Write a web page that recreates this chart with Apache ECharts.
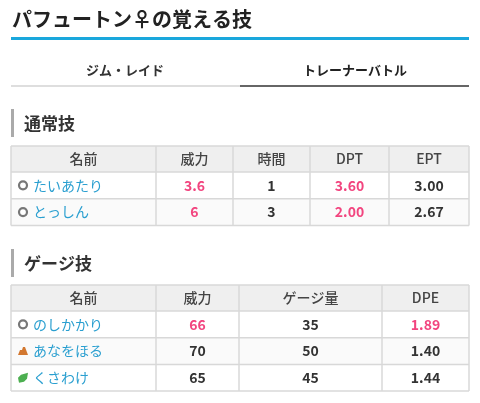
<!DOCTYPE html>
<html><head><meta charset="utf-8">
<script src="https://cdn.jsdelivr.net/npm/echarts@6/dist/echarts.min.js"></script>
<style>html,body{margin:0;padding:0;background:#fff}#c{width:480px;height:403px}</style>
</head><body><div id="c"></div>
<script>
const title = "パフュートン♀の覚える技";
const tabs = ["ジム・レイド", "トレーナーバトル"];
const sec1 = "通常技";
const head1 = ["名前", "威力", "時間", "DPT", "EPT"];
const names1 = ["たいあたり", "とっしん"];
const types1 = ["normal", "normal"];
const power1 = ["3.6", "6"];
const time1 = ["1", "3"];
const dpt1 = ["3.60", "2.00"];
const ept1 = ["3.00", "2.67"];
const hl1 = [[true,false,true,false],[true,false,true,false]];
const sec2 = "ゲージ技";
const head2 = ["名前", "威力", "ゲージ量", "DPE"];
const names2 = ["のしかかり", "あなをほる", "くさわけ"];
const types2 = ["normal", "ground", "grass"];
const power2 = ["66", "70", "65"];
const gauge2 = ["35", "50", "45"];
const dpe2 = ["1.89", "1.40", "1.44"];
const hl2 = [[true,false,true],[false,false,false],[false,false,false]];

const F = '"Noto Sans CJK JP", "Noto Sans", sans-serif';
const PINK = '#f2457f', DARK = '#333', LINK = '#2a9fd0', BORDER = '#d8d8d8';
const g = [];
function txt(x, y, s, o) {
  g.push({type:'text', x, y, style:Object.assign({text:s, font:'bold 14px '+F, fill:DARK, textAlign:'center', textVerticalAlign:'middle'}, o||{})});
}
function rect(x, y, w, h, st) { g.push({type:'rect', shape:{x,y,width:w,height:h}, style:st}); }
function icon(type, x, y) {
  if (type === 'normal') g.push({type:'circle', shape:{cx:x, cy:y, r:4}, style:{fill:'#fff', stroke:'#777', lineWidth:2.2}});
  else if (type === 'ground') g.push({type:'polygon', shape:{points:[[x-5,y+4],[x-3,y-1],[x-1,y-1],[x,y-4],[x+2,y-4],[x+5,y+4]]}, style:{fill:'#d2772f'}});
  else g.push({type:'polygon', shape:{points:[[x-4,y+5],[x-5,y],[x-2,y-3],[x+5,y-5],[x+4,y+1],[x+1,y+4]]}, style:{fill:'#4caf50'}});
}
function table(top, cols, header, rows, types, hls) {
  const hh = 26, rh = 26.7;
  const W = cols[cols.length-1] - cols[0];
  rect(cols[0], top, W, hh, {fill:'#efefef'});
  rows.forEach((r, i) => rect(cols[0], top+hh+i*rh, W, rh, {fill: i%2 ? '#fafafa' : '#fff'}));
  const H = hh + rows.length*rh;
  for (let i = 0; i <= rows.length+1; i++) {
    const y = i === 0 ? top : top+hh+(i-1)*rh;
    g.push({type:'line', shape:{x1:cols[0], y1:y, x2:cols[cols.length-1], y2:y}, style:{stroke:BORDER, lineWidth:1.5}});
  }
  cols.forEach(x => g.push({type:'line', shape:{x1:x, y1:top, x2:x, y2:top+H}, style:{stroke:BORDER, lineWidth:1.5}}));
  header.forEach((h, j) => txt((cols[j]+cols[j+1])/2, top+hh/2, h, {fill:'#444', font:'500 14px '+F}));
  rows.forEach((r, i) => {
    const cy = top+hh+i*rh+rh/2;
    icon(types[i], 23, cy);
    txt(33, cy, r[0], {textAlign:'left', font:'14px '+F, fill:LINK});
    for (let j = 1; j < r.length; j++)
      txt((cols[j]+cols[j+1])/2, cy, r[j], {fill: hls[i][j-1] ? PINK : DARK});
  });
}
txt(12, 19, title, {textAlign:'left', font:'bold 20px '+F, fill:'#222'});
rect(11, 37, 458, 3, {fill:'#1aa7dc'});
txt(125, 70, tabs[0], {fill:'#333', font:'bold 13px '+F});
txt(355, 70, tabs[1], {fill:'#222', font:'bold 13px '+F});
rect(11, 85, 229, 2, {fill:'#dedede'});
rect(240, 85, 229, 2, {fill:'#666'});
rect(11, 109, 3, 28, {fill:'#aaa'});
txt(24, 124, sec1, {textAlign:'left', font:'bold 17px '+F, fill:'#333'});
table(146, [11,156,233,310,389,469], head1,
  names1.map((n,i)=>[n, power1[i], time1[i], dpt1[i], ept1[i]]), types1, hl1);
rect(11, 249, 3, 28, {fill:'#aaa'});
txt(24, 264, sec2, {textAlign:'left', font:'bold 17px '+F, fill:'#333'});
table(285, [11,156,239,382,469], head2,
  names2.map((n,i)=>[n, power2[i], gauge2[i], dpe2[i]]), types2, hl2);

const chart = echarts.init(document.getElementById('c'));
chart.setOption({animation:false, graphic:{elements:g}});
</script></body></html>
